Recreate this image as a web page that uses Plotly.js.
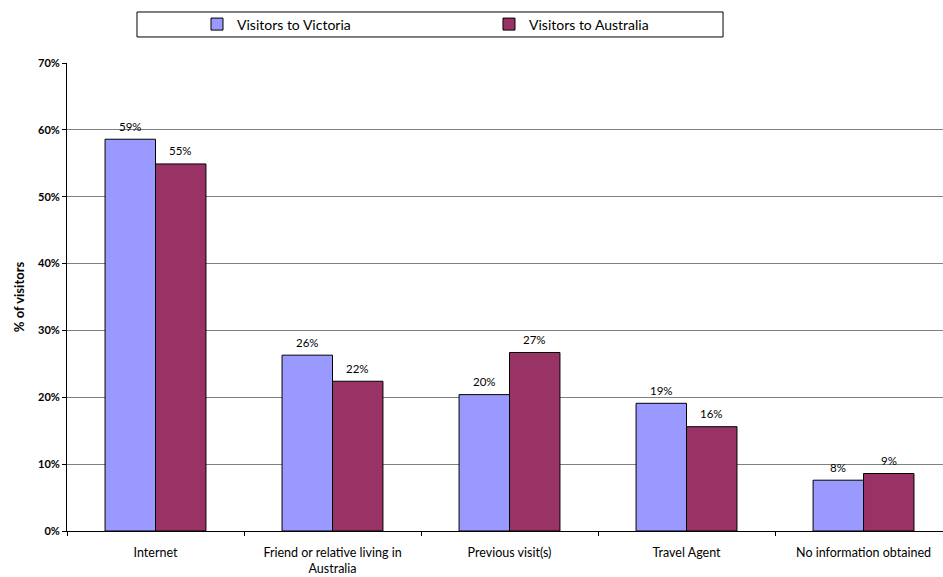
<!DOCTYPE html>
<html>
<head>
<meta charset="utf-8">
<script src="https://cdn.plot.ly/plotly-3.0.1.min.js"></script>
<style>
  html, body { margin: 0; padding: 0; background: #ffffff; overflow: hidden; }
  #chart { width: 943px; height: 577px; }
</style>
</head>
<body>
<div id="chart"></div>
<script>
// Information sources used before the trip (% of visitors)
var categories = [
  'Internet',
  'Friend or relative living in<br>Australia',
  'Previous visit(s)',
  'Travel Agent',
  'No information obtained'
];
var victoria = [58.6, 26.3, 20.4, 19.1, 7.6];
var australia = [54.9, 22.4, 26.7, 15.6, 8.6];
var seriesNames = ['Visitors to Victoria', 'Visitors to Australia'];
var yTicks = [0, 10, 20, 30, 40, 50, 60, 70];

var FONT = 'Lato, "Open Sans", "DejaVu Sans", sans-serif';
var BAR_OFFSET = 25.2; // half a bar width, in px, to centre labels over each bar

var traces = [
  {
    type: 'bar', name: seriesNames[0], x: categories, y: victoria,
    marker: { color: '#9999FF', line: { color: '#000000', width: 1 } },
    hoverinfo: 'skip'
  },
  {
    type: 'bar', name: seriesNames[1], x: categories, y: australia,
    marker: { color: '#993366', line: { color: '#000000', width: 1 } },
    hoverinfo: 'skip'
  }
];

// Value labels above every bar
var annotations = [];
[victoria, australia].forEach(function (vals, s) {
  vals.forEach(function (v, i) {
    annotations.push({
      x: categories[i], y: v, xref: 'x', yref: 'y',
      text: Math.round(v) + '%',
      showarrow: false,
      xshift: s === 0 ? -BAR_OFFSET : BAR_OFFSET,
      yshift: 13,
      yanchor: 'middle',
      font: { family: FONT, size: 11.5, color: '#000000' }
    });
  });
});

var layout = {
  width: 943, height: 577,
  margin: { l: 67, r: 0, t: 63, b: 46, pad: 0 },
  paper_bgcolor: '#ffffff', plot_bgcolor: '#ffffff',
  font: { family: FONT, size: 12, color: '#000000' },
  barmode: 'group', bargap: 0.43, bargroupgap: 0,
  showlegend: true,
  legend: {
    orientation: 'h',
    x: 0.1484, xanchor: 'left',
    y: 1.0823, yanchor: 'middle',
    bgcolor: 'rgba(0,0,0,0)', borderwidth: 0,
    entrywidth: 247, entrywidthmode: 'pixels',
    font: { family: FONT, size: 14, color: '#000000' },
    itemclick: false, itemdoubleclick: false
  },
  xaxis: {
    type: 'category',
    range: [-0.5, 4.449],
    showline: true, linecolor: '#000000', linewidth: 1,
    ticks: 'outside', ticklen: 4, tickcolor: '#000000', tickson: 'boundaries',
    ticklabelstandoff: 10,
    showgrid: false, zeroline: false,
    tickfont: { family: FONT, size: 12.5, color: '#000000' },
    fixedrange: true
  },
  yaxis: {
    range: [0, 70],
    tickmode: 'array', tickvals: yTicks,
    ticktext: yTicks.map(function (t) { return t + '%'; }),
    showline: true, linecolor: '#000000', linewidth: 1,
    ticks: 'outside', ticklen: 4, tickcolor: '#000000',
    showgrid: true, gridcolor: '#808080', gridwidth: 1,
    zeroline: false,
    tickfont: { family: FONT, size: 11, color: '#000000', weight: 'bold' },
    title: { text: '<b>% of visitors</b>', font: { family: FONT, size: 13, color: '#000000' }, standoff: 10 },
    automargin: false,
    fixedrange: true
  },
  shapes: [
    {
      // frame around the legend
      type: 'rect', xref: 'paper', yref: 'paper',
      x0: 0.0799, x1: 0.7489, y0: 1.0556, y1: 1.109,
      line: { color: '#000000', width: 1 }, fillcolor: 'rgba(0,0,0,0)', layer: 'above'
    }
  ],
  annotations: annotations
};

Plotly.newPlot('chart', traces, layout, { displayModeBar: false, staticPlot: true });
</script>
</body>
</html>
